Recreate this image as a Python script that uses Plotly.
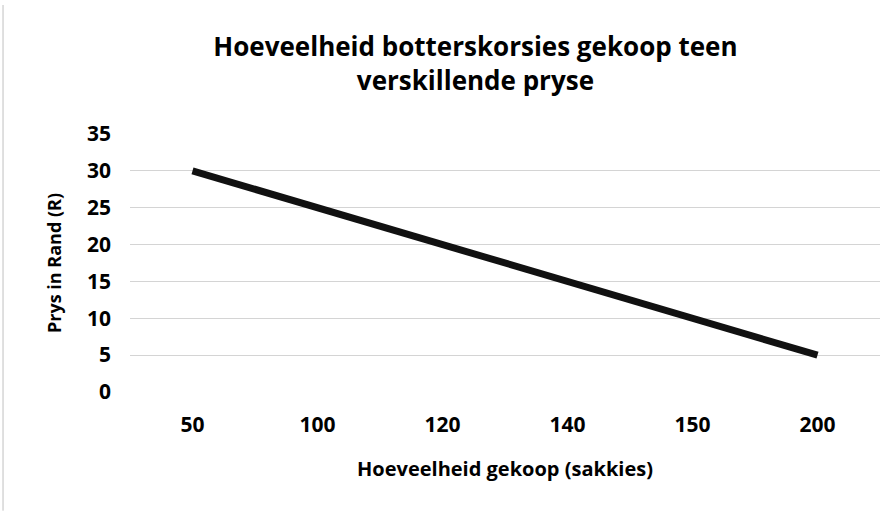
import plotly.graph_objects as go

categories = ["50", "100", "120", "140", "150", "200"]
prices = [30, 25, 20, 15, 10, 5]
y_ticks = [0, 5, 10, 15, 20, 25, 30, 35]

title_text = "Hoeveelheid botterskorsies gekoop teen<br>verskillende pryse"
x_title = "Hoeveelheid gekoop (sakkies)"
y_title = "Prys in Rand (R)"

FONT = "Open Sans"

fig = go.Figure()
fig.add_trace(go.Scatter(
    x=categories, y=prices, mode="lines",
    line=dict(color="#111111", width=7),
    showlegend=False,
))

fig.update_layout(
    width=892, height=512,
    paper_bgcolor="white", plot_bgcolor="white",
    margin=dict(l=130, r=12, t=134, b=120, autoexpand=False),
    title=dict(
        text="<b>" + title_text + "</b>",
        x=0.533, xanchor="center", y=0.89, yanchor="top",
        font=dict(family=FONT, size=26, color="#000000"),
    ),
    font=dict(family=FONT, color="#000000"),
)

fig.update_xaxes(
    type="category", range=[-0.5, 5.5], automargin=False,
    tickfont=dict(family=FONT, size=21, color="#000000", weight="bold"),
    showgrid=False, showline=False, zeroline=False, ticks="",
    ticklabelstandoff=18,
    title=dict(text="<b>" + x_title + "</b>", font=dict(family=FONT, size=20, color="#000000"), standoff=24),
)

fig.update_yaxes(
    range=[0, 35], automargin=False,
    tickvals=y_ticks,
    tickfont=dict(family=FONT, size=21, color="#000000", weight="bold"),
    showgrid=True, gridcolor="#d4d4d4", gridwidth=1,
    showline=False, zeroline=False, ticks="",
    ticklabelstandoff=18,
    title=dict(text="<b>" + y_title + "</b>", font=dict(family=FONT, size=18, color="#000000"), standoff=20),
)

fig.add_shape(type="line", xref="paper", yref="paper",
              x0=-0.1693, x1=-0.1693, y0=-0.46, y1=1.5,
              line=dict(color="#c0c0c0", width=1))

fig.write_html("out.html", config={"displayModeBar": False},
               post_script="document.body.style.margin='0';")
